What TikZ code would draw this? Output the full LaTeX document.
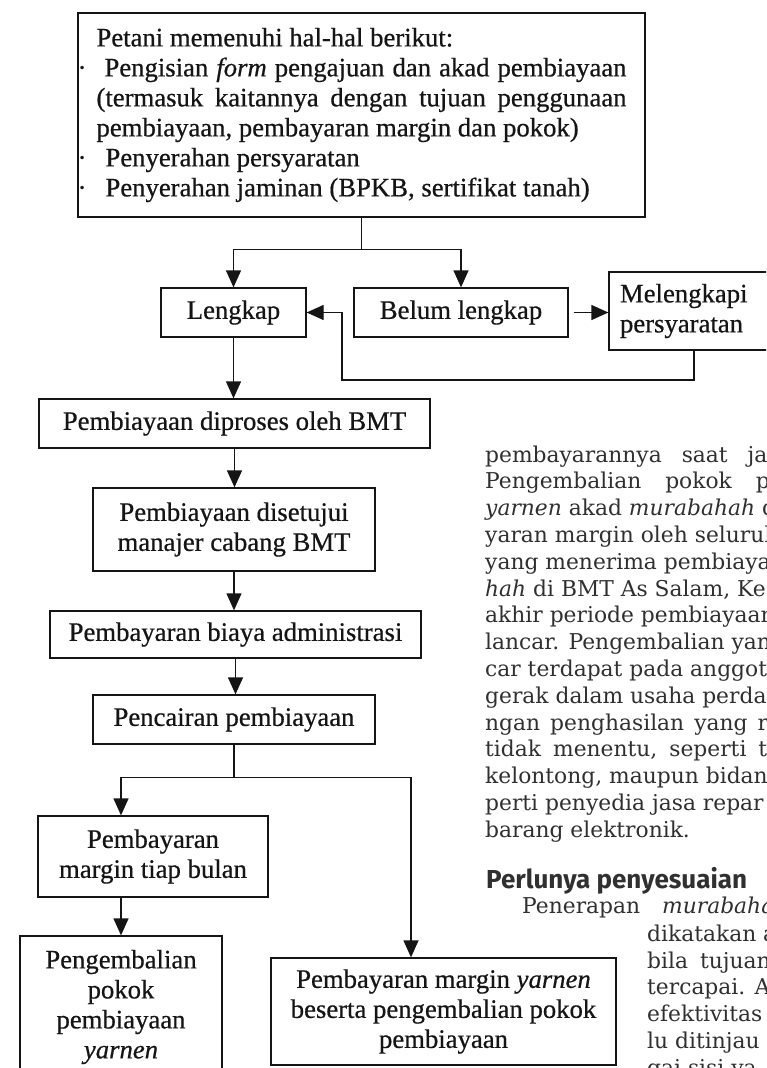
\documentclass[tikz,border=0pt]{standalone}
\usepackage{fontspec}
\setmainfont{Liberation Serif}[FakeBold=0.6]
\newfontfamily\bodyfont{DejaVu Serif}
\newfontfamily\headfont{Fira Sans}
\usepackage{tikz}
\usetikzlibrary{arrows.meta}
\usetikzlibrary{positioning}

\begin{document}
\begin{tikzpicture}[x=1pt, y=-1pt]
    \definecolor{my_ink}{HTML}{151515}
    \definecolor{my_text}{HTML}{303030}
    \tikzstyle{every node}=[font=\fontsize{26.7}{30}\selectfont, text=my_ink]
    \tikzstyle{box}=[draw=my_ink, line width=1.3pt, align=center, inner sep=0pt]
    \tikzstyle{line}=[draw=my_ink, line width=1.3pt]
    \tikzstyle{arr}=[draw=my_ink, line width=1.3pt, -{Triangle[length=17pt,width=15pt]}]
    \tikzstyle{body}=[font=\bodyfont\fontsize{21.8}{26.8}\selectfont, text=my_text, anchor=base west, inner sep=0pt]

    \useasboundingbox (0,0) rectangle (766,1068);
    \clip (0,0) rectangle (766,1068);
    \fill[white] (0,0) rectangle (766,1068);

    % bagan alur
    \node[box, text width=530pt, align=justify, inner xsep=18.5pt, minimum height=204pt] (syarat) at (361.5,115) {Petani memenuhi hal-hal berikut:\\
        \llap{·\hspace{10pt}}\hspace*{8pt}Pengisian \textit{form} pengajuan dan akad pembiayaan\linebreak
        (termasuk kaitannya dengan tujuan penggunaan\linebreak
        pembiayaan, pembayaran margin dan pokok)\\
        \llap{·\hspace{10pt}}\hspace*{9pt}Penyerahan persyaratan\\
        \llap{·\hspace{10pt}}\hspace*{9pt}Penyerahan jaminan (BPKB, sertifikat tanah)};
    \node[box, minimum width=145pt, minimum height=49pt] (lengkap) at (233.5,312.5) {Lengkap};
    \node[box, minimum width=214pt, minimum height=49pt] (belum) at (461,312.5) {Belum lengkap};
    \node[box, text width=148pt, align=left, inner xsep=11pt, minimum height=78pt] (lengkapi) at (694,311) {Melengkapi\\persyaratan};
    \node[box, minimum width=391pt, minimum height=49pt] (proses) at (234.5,423.5) {Pembiayaan diproses oleh BMT};
    \node[box, minimum width=282pt, minimum height=83pt] (setuju) at (234,529.5) {Pembiayaan disetujui\\manajer cabang BMT};
    \node[box, minimum width=371pt, minimum height=47pt] (admin) at (235.5,634.5) {Pembayaran biaya administrasi};
    \node[box, minimum width=282pt, minimum height=49pt] (cair) at (234,719.5) {Pencairan pembiayaan};
    \node[box, minimum width=230pt, minimum height=81pt] (margin) at (153,856.5) {Pembayaran\\margin tiap bulan};
    \node[box, minimum width=202pt, minimum height=142pt] (pokok) at (121,1007) {Pengembalian\\pokok\\pembiayaan\\\textit{yarnen}};
    \node[box, minimum width=345pt, minimum height=107pt] (yarnen) at (443.5,1011.5) {Pembayaran margin \textit{yarnen}\\beserta pengembalian pokok\\pembiayaan};

    \draw[line] (syarat.south) -- ++(0,32) coordinate (split);
    \draw[arr] (split) -| (lengkap.north);
    \draw[arr] (split) -| (belum.north);
    \draw[arr, shorten <=5pt] (belum.east) -- (belum.east -| lengkapi.west);
    \coordinate (balik) at (342,380);
    \draw[arr] (lengkapi.south) |- (balik) |- (lengkap.east);
    \draw[arr] (lengkap.south) -- (lengkap.south |- proses.north);
    \draw[arr] (proses.south) -- (proses.south |- setuju.north);
    \draw[arr] (setuju.south) -- (setuju.south |- admin.north);
    \draw[arr] (admin.south) -- (admin.south |- cair.north);
    \draw[line] (cair.south) -- ++(0,33) coordinate (cabang);
    \draw[arr] (cabang) -| (pokok.north |- margin.north);
    \draw[arr] (margin.south -| pokok.north) -- (pokok.north);
    \draw[arr] (cabang) -| ([xshift=-32.5pt]yarnen.north);

    % teks halaman
    \node[body] (baris1) at (485,462) {pembayarannya\hspace{20pt}saat\hspace{20pt}jat};
    \node[body] (baris2) at (485,488.8) {Pengembalian\hspace{24pt}pokok\hspace{24pt}p};
    \node[body] (baris3) at (485,515.6) {\textit{yarnen} akad \textit{murabahah} d};
    \node[body] (baris4) at (485,542.4) {yaran margin oleh seluruh};
    \node[body] (baris5) at (485,569.2) {yang menerima pembiaya};
    \node[body] (baris6) at (485,596) {\textit{hah} di BMT As Salam, Ke};
    \node[body] (baris7) at (485,622.8) {akhir periode pembiayaan};
    \node[body] (baris8) at (485,649.6) {lancar. Pengembalian yang};
    \node[body] (baris9) at (485,676.4) {car terdapat pada anggot};
    \node[body] (baris10) at (485,703.2) {gerak dalam usaha perdag};
    \node[body] (baris11) at (485,730) {ngan\hspace{10pt}penghasilan\hspace{10pt}yang\hspace{10pt}r};
    \node[body] (baris12) at (485,756.8) {tidak\hspace{12pt}menentu,\hspace{12pt}seperti\hspace{12pt}t};
    \node[body] (baris13) at (485,783.6) {kelontong, maupun bidan};
    \node[body] (baris14) at (485,810.4) {perti penyedia jasa repar};
    \node[body] (baris15) at (485,837.2) {barang elektronik.};
    \node[body, font=\headfont\bfseries\fontsize{26}{29}\selectfont] (judul) at (486,888) {Perlunya penyesuaian};
    \node[body] (baris16) at (522,913) {Penerapan\hspace{22pt}\textit{murabahah}};
    \node[body] (baris17) at (647,941.5) {dikatakan a};
    \node[body] (baris18) at (647,968.2) {bila\hspace{12pt}tujuan};
    \node[body] (baris19) at (647,994.9) {tercapai. A};
    \node[body] (baris20) at (647,1021.6) {efektivitas m};
    \node[body] (baris21) at (647,1048.3) {lu ditinjau};
    \node[body] (baris22) at (647,1075) {gai sisi ya};
\end{tikzpicture}
\end{document}
